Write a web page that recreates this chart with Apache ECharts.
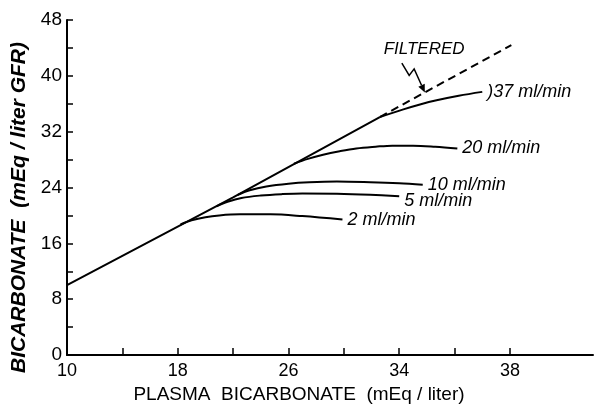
<!DOCTYPE html>
<html>
<head>
<meta charset="utf-8">
<script src="https://cdn.jsdelivr.net/npm/echarts@6/dist/echarts.min.js"></script>
<style>
html,body{margin:0;padding:0;background:#fff;}
#chart{width:595px;height:404px;}
</style>
</head>
<body>
<div id="chart"></div>
<script>
// ---- data ----
var xTickValues = [10, 14, 18, 22, 26, 30, 34, 38, 42];
var xLabelValues = [10, 18, 26, 34, 42];
var xLabelTexts = ['10', '18', '26', '34', '38'];
var yLabelValues = [0, 8, 16, 24, 32, 40, 48];

var filteredSolid = [[10, 10], [22, 22.6], [32.6, 34.1]];
var filteredDashed = [[32.6, 34.1], [42.1, 44.4]];
var ml2 = [[18.2, 18.7], [19.0, 19.3], [20, 19.75], [21, 20.0], [22.5, 20.15], [24.7, 20.15], [27, 19.9], [29.9, 19.4]];
var ml5 = [[20.8, 21.3], [21.6, 21.95], [22.6, 22.5], [24, 22.85], [25.5, 23.05], [27, 23.15], [29.5, 23.1], [31.9, 22.95], [34, 22.75]];
var ml10 = [[22.3, 22.9], [23.2, 23.6], [24.4, 24.15], [26, 24.55], [27.5, 24.75], [29.5, 24.85], [31.9, 24.75], [34, 24.6], [35.7, 24.4]];
var ml20 = [[26.4, 27.4], [27.4, 28.1], [28.5, 28.7], [29.7, 29.2], [30.9, 29.6], [32.3, 29.85], [33.5, 30.0], [35, 30.0], [36.6, 29.85], [38.2, 29.6]];
var ml37 = [[32.6, 34.1], [34.3, 35.2], [35.5, 35.9], [36.7, 36.5], [38.3, 37.15], [40.0, 37.7]];

var seriesNames = ['2 ml/min', '5 ml/min', '10 ml/min', '20 ml/min', ')37 ml/min'];
var filteredText = 'FILTERED';
// annotation arrow path (data coords)
var arrowPath = [[34.19, 41.83], [34.72, 40.05], [35.08, 41.0], [35.85, 37.6]];
var filteredLabelPos = [35.8, 43.8];

var chart = echarts.init(document.getElementById('chart'));
var lineStyle = {color: '#000', width: 2};
var labelFont = {fontFamily: 'Liberation Sans', fontStyle: 'italic', fontSize: 18, color: '#000'};

function curve(name, data, offset) {
  return {
    type: 'line', name: name, data: data, smooth: 0.35, symbol: 'none',
    lineStyle: lineStyle, silent: true, animation: false,
    endLabel: Object.assign({show: true, formatter: '{a}', distance: 5, offset: offset || [0, 0]}, labelFont)
  };
}

var option = {
  animation: false,
  grid: {left: 67, right: 2, top: 20, bottom: 49, containLabel: false, outerBoundsMode: 'none'},
  xAxis: {
    type: 'value', min: 10, max: 48, interval: 4,
    splitLine: {show: false},
    axisLine: {show: true, lineStyle: {color: '#000', width: 2}},
    axisTick: {show: true, inside: true, length: 7, lineStyle: {color: '#000', width: 1.5}, customValues: xTickValues},
    axisLabel: {
      customValues: xLabelValues, margin: 7,
      formatter: function (v) { var i = xLabelValues.indexOf(v); return i >= 0 ? xLabelTexts[i] : ''; },
      color: '#000', fontFamily: 'Liberation Sans', fontSize: 18
    },
    name: 'PLASMA  BICARBONATE  (mEq / liter)', nameLocation: 'middle', nameGap: 30,
    nameTextStyle: {color: '#000', fontFamily: 'Liberation Sans', fontSize: 19, padding: [0, 62, 0, 0]}
  },
  yAxis: {
    type: 'value', min: 0, max: 48, interval: 4,
    splitLine: {show: false},
    axisLine: {show: true, lineStyle: {color: '#000', width: 2}},
    axisTick: {show: true, inside: true, length: 6, lineStyle: {color: '#000', width: 1.5}},
    axisLabel: {
      customValues: yLabelValues, margin: 5,
      color: '#000', fontFamily: 'Liberation Sans', fontSize: 19
    },
    name: 'BICARBONATE  (mEq / liter GFR)', nameLocation: 'middle', nameGap: 37, nameRotate: 90,
    nameTextStyle: {color: '#000', fontFamily: 'Liberation Sans', fontSize: 21, fontStyle: 'italic', fontWeight: 'bold', padding: [0, 40, 0, 0]}
  },
  series: [
    {type: 'line', data: filteredSolid, symbol: 'none', lineStyle: lineStyle, silent: true},
    {type: 'line', data: filteredDashed, symbol: 'none', lineStyle: {color: '#000', width: 2, type: [8, 5]}, silent: true},
    curve(seriesNames[0], ml2),
    curve(seriesNames[1], ml5, [0, 5]),
    curve(seriesNames[2], ml10),
    curve(seriesNames[3], ml20),
    curve(seriesNames[4], ml37)
  ]
};
chart.setOption(option);

// annotation: FILTERED label + zigzag arrow, positioned from data coordinates
var pts = arrowPath.map(function (p) { return chart.convertToPixel({gridIndex: 0}, p); });
var tip = pts[pts.length - 1], prev = pts[pts.length - 2];
var ang = Math.atan2(tip[1] - prev[1], tip[0] - prev[0]);
var hl = 8, hw = 3.5;
var base = [tip[0] - hl * Math.cos(ang), tip[1] - hl * Math.sin(ang)];
var head = [tip,
  [base[0] + hw * Math.sin(ang), base[1] - hw * Math.cos(ang)],
  [base[0] - hw * Math.sin(ang), base[1] + hw * Math.cos(ang)]];
var lp = chart.convertToPixel({gridIndex: 0}, filteredLabelPos);
chart.setOption({
  graphic: [
    {type: 'polyline', shape: {points: pts.slice(0, pts.length - 1).concat([base])}, style: {stroke: '#000', lineWidth: 1.5, fill: null}},
    {type: 'polygon', shape: {points: head}, style: {fill: '#000'}},
    {type: 'text', x: lp[0], y: lp[1], style: {text: filteredText, align: 'center', verticalAlign: 'middle', fill: '#000', font: 'italic 17px "Liberation Sans"'}}
  ]
});
</script>
</body>
</html>
